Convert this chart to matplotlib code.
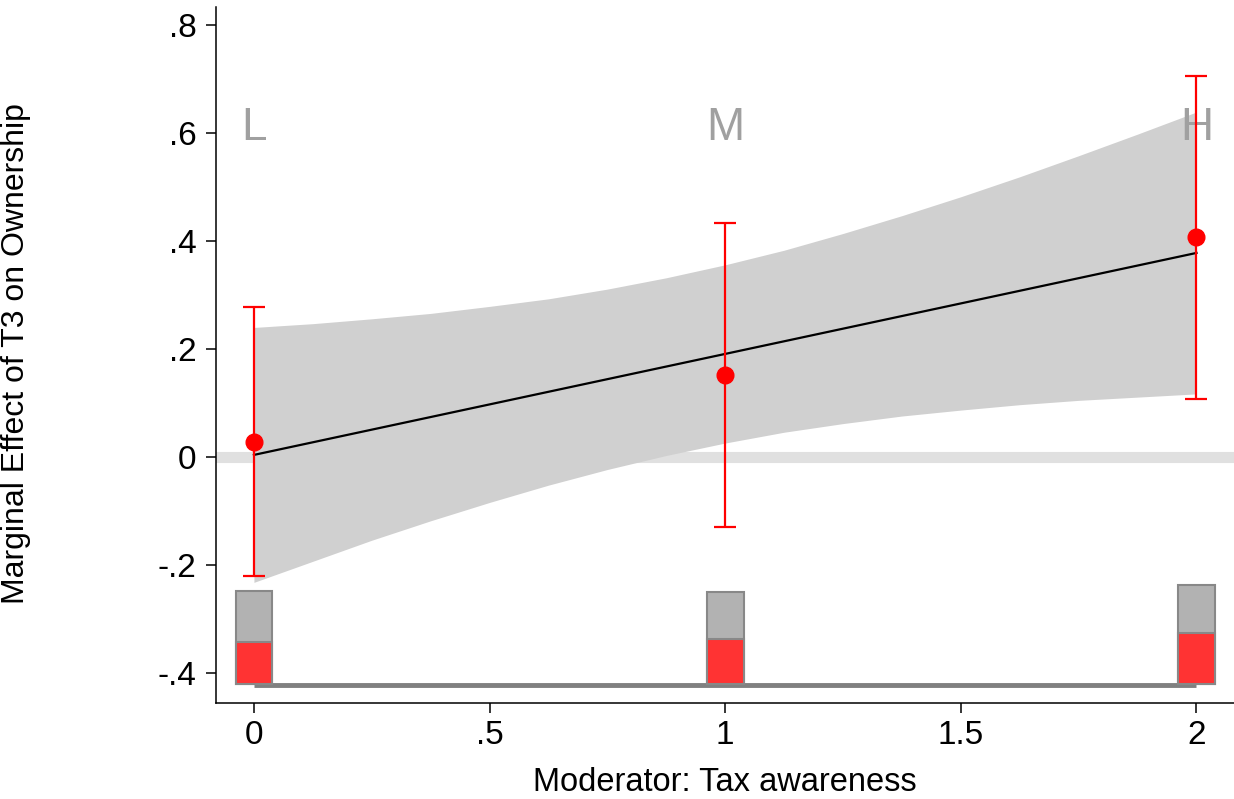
import numpy as np
import matplotlib
matplotlib.use("Agg")
import matplotlib.pyplot as plt

plt.rcParams['font.family'] = ['Liberation Sans', 'DejaVu Sans']

# poziomy moderatora
poziomy = [0, 1, 2]
litery = ["L", "M", "H"]

# punkty z przedziałami (czerwone)
efekt = [0.028, 0.152, 0.407]
ci_dol = [-0.220, -0.130, 0.107]
ci_gora = [0.278, 0.433, 0.706]

# linia dopasowania
linia_x = [0, 2]
linia_y = [0.004, 0.378]

# pasmo ufności
pasmo_x = [0, 0.125, 0.25, 0.375, 0.5, 0.625, 0.75, 0.875, 1.0,
           1.125, 1.25, 1.375, 1.5, 1.625, 1.75, 1.875, 2.0]
pasmo_gora = [0.240, 0.247, 0.256, 0.266, 0.279, 0.293, 0.311, 0.332, 0.356,
              0.383, 0.414, 0.447, 0.482, 0.519, 0.558, 0.598, 0.639]
pasmo_dol = [-0.232, -0.193, -0.154, -0.118, -0.084, -0.052, -0.023, 0.003, 0.026,
             0.046, 0.062, 0.076, 0.087, 0.097, 0.105, 0.111, 0.117]

# histogram na dole
hist_baza = -0.42
hist_szary = [-0.248, -0.250, -0.237]
hist_czerwony = [-0.343, -0.337, -0.326]

yticks = [-0.4, -0.2, 0, 0.2, 0.4, 0.6, 0.8]
yticklabels = ["-.4", "-.2", "0", ".2", ".4", ".6", ".8"]
xticks = [0, 0.5, 1, 1.5, 2]
xticklabels = ["0", ".5", "1", "1.5", "2"]

fig = plt.figure(figsize=(12.34, 7.99), dpi=100)
ax = fig.add_axes([0.175, 0.12, 0.825, 0.871])

ax.axhline(0, color="#e0e0e0", lw=8, zorder=1)
ax.fill_between(pasmo_x, pasmo_dol, pasmo_gora, color="#d0d0d0", lw=0, zorder=2)
ax.plot(linia_x, linia_y, color="black", lw=1.6, zorder=4)

for x, l in zip(poziomy, litery):
    ax.text(x, 0.61, l, ha="center", va="center", fontsize=33, color="#a0a0a0", zorder=3)

dol = np.array(efekt) - np.array(ci_dol)
gora = np.array(ci_gora) - np.array(efekt)
ax.errorbar(poziomy, efekt, yerr=[dol, gora], fmt="o", color="#ff0000", ms=12,
            elinewidth=1.6, capsize=8, capthick=1.6, zorder=5)

ax.plot([poziomy[0], poziomy[-1]], [hist_baza - 0.002] * 2, color="#808080", lw=3.5,
        solid_capstyle="butt", zorder=3)
sz = np.array(hist_szary) - hist_baza
cz = np.array(hist_czerwony) - hist_baza
ax.bar(poziomy, sz, width=0.078, bottom=hist_baza, color="#b2b2b2", edgecolor="#888888",
       lw=1.5, zorder=4)
ax.bar(poziomy, cz, width=0.078, bottom=hist_baza, color="#ff3333", edgecolor="#888888",
       lw=1.5, zorder=4)

ax.set_xlim(-0.0806, 2.0796)
ax.set_ylim(-0.4556, 0.833)
ax.set_yticks(yticks)
ax.set_yticklabels(yticklabels)
ax.set_xticks(xticks)
ax.set_xticklabels(xticklabels)
ax.tick_params(labelsize=24, length=7, width=1.1)
ax.tick_params(axis="x", pad=5)
ax.tick_params(axis="y", pad=7)
for s in ["top", "right"]:
    ax.spines[s].set_visible(False)
for s in ["left", "bottom"]:
    ax.spines[s].set_linewidth(1.1)

fig.text(725 / 1234, 1 - 791 / 799, "Moderator: Tax awareness", fontsize=23.5,
         ha="center", va="baseline")
fig.text(16 / 1234, 1 - 354 / 799, "Marginal Effect of T3 on Ownership", fontsize=23,
         ha="center", va="center", rotation=90)

fig.savefig("out.png", dpi=100)
